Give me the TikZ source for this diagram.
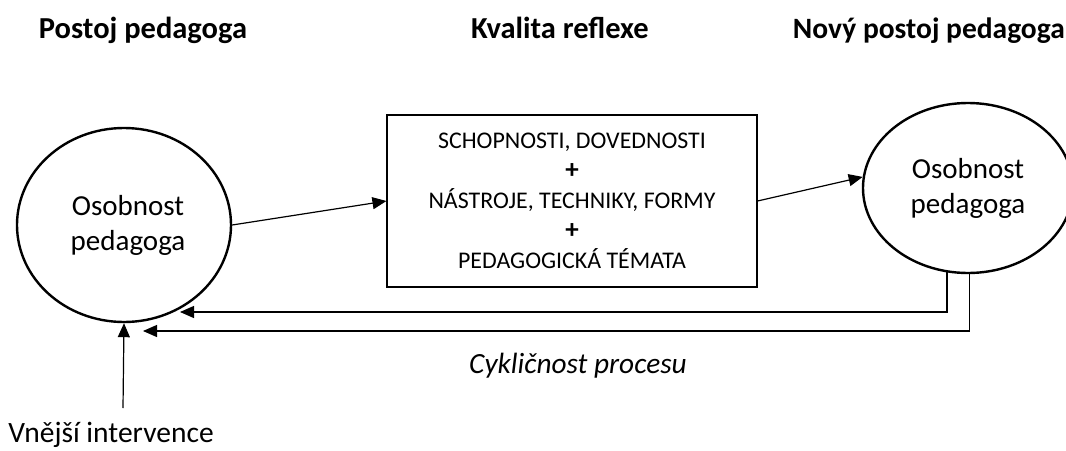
\documentclass[tikz,border=0pt]{standalone}
\usepackage{fontspec}
\setmainfont{Carlito}
\usetikzlibrary{shapes.geometric,arrows.meta}
\newcommand{\plussign}{{\fontsize{27}{30}\selectfont\bfseries +}}
\begin{document}
\begin{tikzpicture}[x=1pt,y=-1pt,
  person/.style={ellipse,draw,line width=2.4pt,inner sep=0pt,align=center,font=\fontsize{29}{35}\selectfont},
  content/.style={rectangle,draw,line width=1.1pt,inner sep=0pt,align=center,font=\fontsize{23.9}{30}\selectfont},
  heading/.style={font=\bfseries\fontsize{30.5}{34}\selectfont,inner sep=0pt,anchor=base},
  label/.style={inner sep=0pt,anchor=base},
  arr/.style={line width=1.2pt,-{Triangle[length=14pt,width=12pt]}}]
\useasboundingbox[clip] (0,0) rectangle (1066,450);

% column headings
\node[heading] (h1) at (143,38) {Postoj pedagoga};
\node[heading] (h2) at (560,38) {Kvalita reflexe};
\node[heading,anchor=base east,font=\bfseries\fontsize{29.5}{34}\selectfont] (h3) at (1065,38) {Nový postoj pedagoga};

% personality before and after reflection
\node[person,minimum width=214pt,minimum height=194pt] (lc) at (124,225) {\hspace*{8pt}Osobnost\\\hspace*{8pt}pedagoga};
\node[person,minimum width=210pt,minimum height=170pt] (rc) at (968,188) {Osobnost\\pedagoga};

% the reflection box
\node[content,minimum width=370pt,minimum height=172pt] (box) at (572,201)
  {SCHOPNOSTI, DOVEDNOSTI\\\plussign\\NÁSTROJE, TECHNIKY, FORMY\\\plussign\\PEDAGOGICKÁ TÉMATA};

\draw[arr] (lc.east) -- (box.west);
\draw[arr] (box.east) -- (rc.174);

% feedback loops
\coordinate (in1) at (180,312);
\coordinate (in2) at (143,331);
\draw[arr] (rc.-104) |- (in1);
\draw[arr] (rc.-89) |- (in2);
\node[label,font=\itshape\fontsize{29.3}{34}\selectfont] (cyc) at (578,373) {Cykličnost procesu};

% outside intervention
\node[label,font=\fontsize{29.5}{34}\selectfont] (vi) at (111,442) {Vnější intervence};
\coordinate (vs) at (123,408);
\draw[arr] (vs) -- (lc.south);
\end{tikzpicture}
\end{document}
